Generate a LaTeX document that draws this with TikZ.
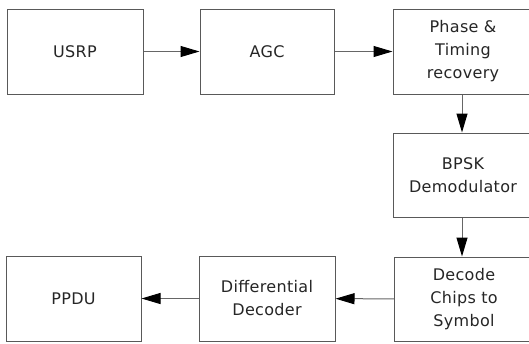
\documentclass[tikz,border=0pt]{standalone}
\usepackage{fontspec}
\setmainfont{DejaVu Sans}[LetterSpace=2]
\usetikzlibrary{arrows.meta}
\begin{document}
\begin{tikzpicture}[x=1pt,y=-1pt,
  blk/.style={draw=black!65, line width=1pt, fill=white, minimum height=85pt, inner sep=0pt,
    align=center, font=\fontsize{16}{23}\selectfont, text=black!85},
  flow/.style={draw=black!60, line width=1pt, -{Triangle[length=19pt,width=11pt,color=black]}}]
\useasboundingbox (0,0) rectangle (529,343);
\fill[white] (0,0) rectangle (529,343);
\node[blk, minimum width=136pt] (usrp) at (75,51.5) {USRP};
\node[blk, minimum width=134pt] (agc) at (267,51.5) {AGC};
\node[blk, minimum width=140pt] (phase) at (463,51.5) {Phase \&\\Timing\\recovery};
\node[blk, minimum width=140pt, minimum height=84pt] (bpsk) at (463,175) {BPSK\\Demodulator};
\node[blk, minimum width=139pt, minimum height=84pt] (dec) at (464,299) {Decode\\Chips to\\Symbol};
\node[blk, minimum width=136pt] (diff) at (267,298.5) {Differential\\Decoder};
\node[blk, minimum width=135pt] (ppdu) at (73.5,298.5) {PPDU};
\draw[flow] (usrp) -- (agc);
\draw[flow] (agc) -- (phase);
\draw[flow] (phase.south -| 462,0) -- (bpsk.north -| 462,0);
\draw[flow] (bpsk.south -| 462,0) -- (dec.north -| 462,0);
\draw[flow] (dec) -- (diff);
\draw[flow] (diff) -- (ppdu);
\end{tikzpicture}
\end{document}
